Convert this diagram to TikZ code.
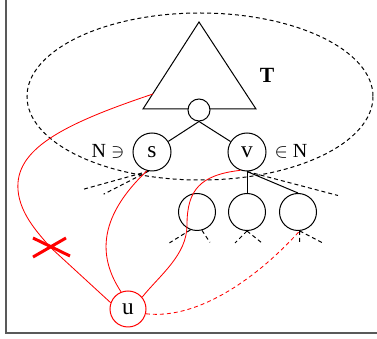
\documentclass[tikz,border=0pt]{standalone}
\usepackage{fontspec}
\setmainfont{Liberation Serif}
\begin{document}
\begin{tikzpicture}[x=0.6pt,y=-0.6pt,line width=0.6pt,
  main node/.style={circle,draw,inner sep=0pt,minimum size=22.8pt,font=\fontsize{14}{16}\selectfont},
  small node/.style={circle,draw,fill=white,inner sep=0pt,minimum size=13.2pt},
  leaf node/.style={circle,draw,inner sep=0pt,minimum size=22.2pt},
  label node/.style={inner sep=1pt,font=\fontsize{12}{14}\selectfont},
  stub/.style={dash pattern=on 2.4pt off 1.8pt},
  red path/.style={red,line width=0.5pt}]
  \useasboundingbox (0,0) rectangle (377,339);
  \draw[gray!70!black,line width=1pt] (6,0) -- (6,333) -- (377,333);
  % the set N
  \draw[stub] (200,96.5) ellipse [x radius=173,y radius=83.5];
  % the tree T
  \draw (199,22) -- (256,109) -- (143,109) -- cycle;
  \node[label node,font=\bfseries\fontsize{13}{15}\selectfont] (T) at (267,75) {T};
  \node[small node] (r) at (199,110) {};
  \node[main node] (s) at (152,152) {s};
  \node[main node] (v) at (247,152) {v};
  \node[label node] (Ns) at (108,151) {N $\ni$};
  \node[label node] (vN) at (291,151) {$\in$ N};
  \node[leaf node] (c1) at (197,212) {};
  \node[leaf node] (c2) at (247,212) {};
  \node[leaf node] (c3) at (298,212) {};
  \node[main node,red,text=black,minimum size=21.6pt] (u) at (128,309) {u};
  \path
   (r.south) edge (s)
   (r.south) edge (v)
   (v.south) edge (c2.north)
   (v.south) edge (c3.north);
  % further children
  \draw[stub] (s.-100) -- ++(-65,18) (s.-100) -- ++(-45,23);
  \draw[stub] (v.south) -- ++(91,24);
  \draw[stub] (c1.-110) -- ++(-21,13) (c1.-75) -- ++(8,12);
  \draw[stub] (c2.south) -- ++(-12,12) (c2.south) -- ++(15,12);
  \draw[stub] (c3.-85) -- ++(0,12) (c3.-85) -- ++(23,12);
  % paths from u
  \coordinate (tl) at (153,94);
  \coordinate (cross) at (50,247);
  \draw[red path] (tl) .. controls (60,125) and (15,150) .. (18,190)
    .. controls (20,215) and (40,235) .. (cross) -- (u.160);
  \draw[red,line width=1.8pt] (cross) ++(-17,-9) -- ++(37,18)
    (cross) ++(-17,10) -- ++(33,-19);
  \draw[red path] (s.-105) .. controls (95,220) and (100,260) .. (u.112);
  \draw[red path] (v.-110) .. controls (200,175) and (187,190) .. (187,225)
    .. controls (187,255) and (160,275) .. (u.40);
  \draw[red path,stub] (u.-15) .. controls (200,320) and (260,275) .. (c3.-85);
\end{tikzpicture}
\end{document}
